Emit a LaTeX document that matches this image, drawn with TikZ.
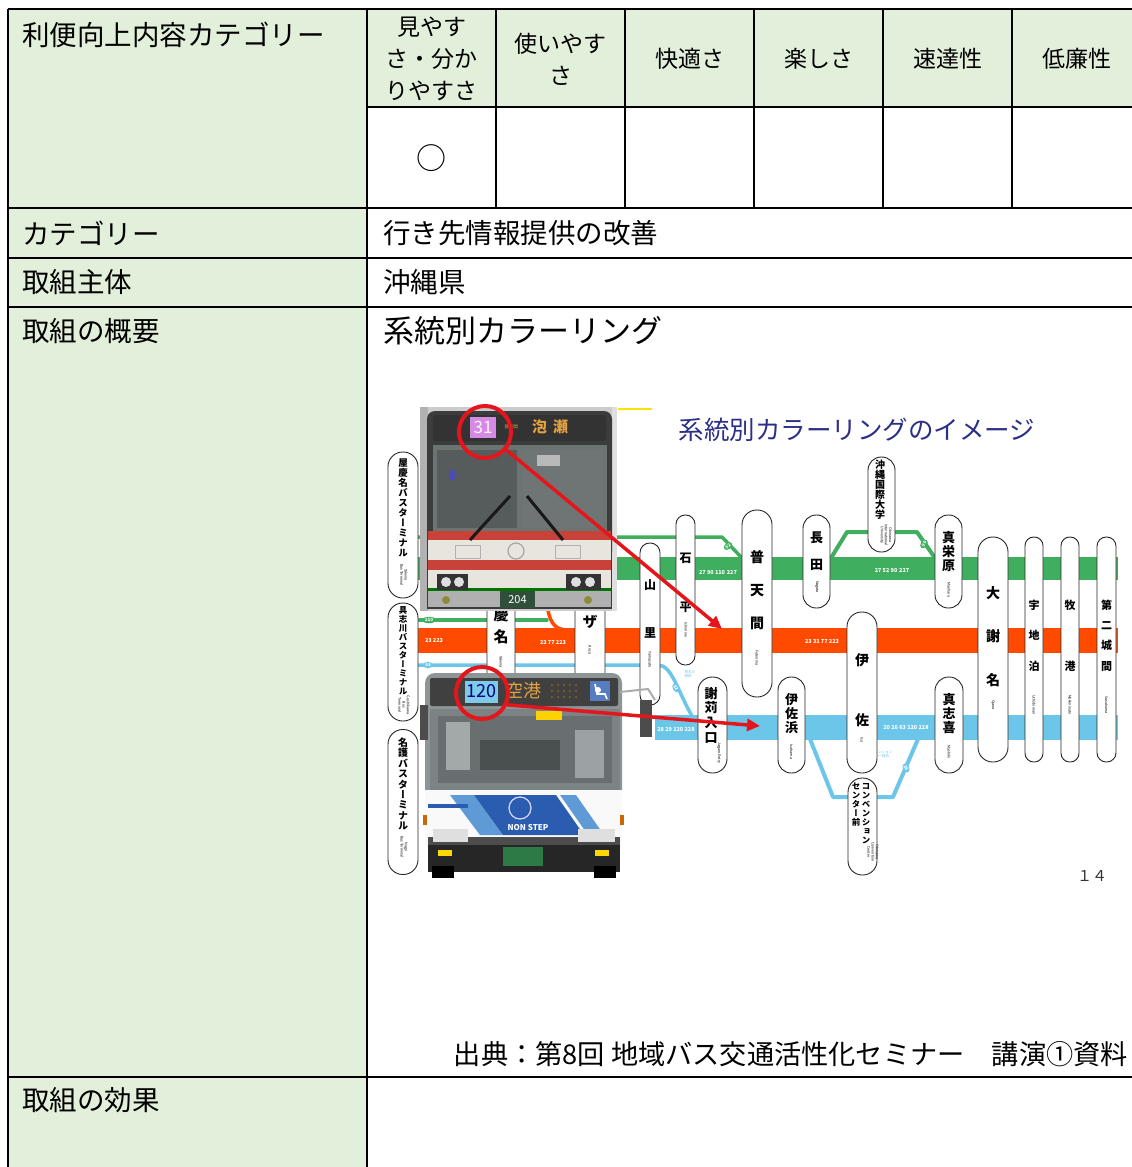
\documentclass[tikz,border=0pt]{standalone}
\usepackage{fontspec}
\setmainfont{Noto Sans CJK JP}
\newfontfamily\jpv[RawFeature=+vert]{Noto Sans CJK JP}
\usetikzlibrary{arrows.meta,shapes.geometric}
\definecolor{hdr}{HTML}{E2EFDA}
\definecolor{rgreen}{HTML}{3FAE5E}
\definecolor{rorange}{HTML}{FF4A00}
\definecolor{rblue}{HTML}{6CC6E9}
\definecolor{navy}{HTML}{2C2F86}
\definecolor{mred}{HTML}{E5161B}
\definecolor{busdark}{HTML}{3B3D3D}
\definecolor{wind}{HTML}{6C7472}
\definecolor{windd}{HTML}{555C5B}
\definecolor{bred}{HTML}{C8423A}
\definecolor{bwhite}{HTML}{E8E4DE}
\definecolor{plateg}{HTML}{2F4F3A}
\definecolor{pinkbox}{HTML}{D58BE3}
\definecolor{ledor}{HTML}{E3A13F}
\definecolor{cyanbox}{HTML}{7DCBEA}
\definecolor{b2gray}{HTML}{8E9596}
\definecolor{b2wind}{HTML}{7B8384}
\definecolor{b2blue}{HTML}{2A5CB0}
\definecolor{b2lblue}{HTML}{5E9BD6}
\definecolor{plate2}{HTML}{2E7A46}
\newcommand\pillstop[5]{\node[pill, minimum width=#4, minimum height=#5, rounded corners={#4*0.5-0.3}] (#1) at (#2,#3) {};}
\newcommand\vjp[6]{\node[vjpstyle, font={\fontsize{#4}{#5}\selectfont\jpv\bfseries}] (#1) at (#2,#3) {#6};}
\begin{document}
\begin{tikzpicture}[x=1pt,y=-1pt,
  grid/.style={line width=1.6pt, black},
  lbl/.style={anchor=west, inner sep=0pt, font=\fontsize{27.5}{30}\selectfont},
  hd/.style={align=center, inner sep=0pt, font=\fontsize{23}{32}\selectfont},
  pill/.style={draw=black!85, line width=0.9pt, fill=white, inner sep=0pt},
  vjpstyle/.style={align=center, inner sep=0pt},
  entext/.style={rotate=-90, inner sep=0pt, align=center, font=\fontsize{3.6}{4.2}\selectfont},
  rnum/.style={inner sep=0pt, text=white, font=\fontsize{5.5}{6}\selectfont\bfseries},
  badge/.style={ellipse, inner sep=0.6pt, text=white, font=\fontsize{4.5}{5}\selectfont\bfseries},
  redring/.style={circle, draw=mred, line width=4pt, minimum size=52pt, inner sep=0pt},
  redarrow/.style={draw=mred, line width=3.5pt, -{Triangle[length=13pt,width=12pt]}}
]
\useasboundingbox (0,0) rectangle (1132,1167);
\begin{scope}
\clip (0,0) rectangle (1132,1167);
% ---------- table ----------
\fill[white] (0,0) rectangle (1132,1167);
\fill[hdr] (8,9) rectangle (367,1180);
\fill[hdr] (367,9) rectangle (1140,107);
\draw[grid] (8,9) -- (1140,9);
\draw[grid] (367,107) -- (1140,107);
\draw[grid] (8,208) -- (1140,208);
\draw[grid] (8,258) -- (1140,258);
\draw[grid] (8,307) -- (1140,307);
\draw[grid] (8,1077) -- (1140,1077);
\draw[grid] (8,9) -- (8,1180);
\draw[grid] (367,9) -- (367,1180);
\foreach \cx in {496,625,754,883,1012} \draw[grid] (\cx,9) -- (\cx,208);

\node[lbl] (t1) at (22,35) {利便向上内容カテゴリー};
\node[hd] (h1) at (431.5,59) {見やす\\さ・分か\\りやすさ};
\node[hd] (h2) at (560.5,59) {使いやす\\さ};
\node[hd] (h3) at (689.5,59) {快適さ};
\node[hd] (h4) at (818.5,59) {楽しさ};
\node[hd] (h5) at (947.5,59) {速達性};
\node[hd] (h6) at (1076.5,59) {低廉性};
\node[inner sep=0pt, font=\fontsize{30}{30}\selectfont] (mark) at (431.5,158) {○};
\node[lbl] (t2) at (22,233) {カテゴリー};
\node[lbl] (v2) at (383,233) {行き先情報提供の改善};
\node[lbl] (t3) at (22,282) {取組主体};
\node[lbl] (v3) at (383,282) {沖縄県};
\node[lbl] (t4) at (22,331) {取組の概要};
\node[lbl, font=\fontsize{31}{34}\selectfont] (v4) at (383,331) {系統別カラーリング};
\node[inner sep=0pt, anchor=east, font=\fontsize{27.2}{30}\selectfont] (src) at (1128,1054) {出典：第8回 地域バス交通活性化セミナー　講演①資料};
\node[lbl] (t5) at (22,1100) {取組の効果};

% ---------- slide: route map ----------
\draw[yellow!85!orange, line width=2pt] (618,409) -- (652,409);
\node[inner sep=0pt, text=navy, font=\fontsize{25.5}{28}\selectfont] (title) at (857,430) {系統別カラーリングのイメージ};

% bands and branches
\fill[rgreen] (410,557) rectangle (1118,580);
\draw[rgreen, line width=3.5pt, line join=round] (410,537) -- (722,537) -- (742,558);
\draw[rgreen, line width=4pt, line join=round] (831,558) -- (847,532) -- (917,532) -- (935,558);
\draw[rgreen, line width=3.5pt, line cap=round] (410,620) -- (547,620);
\fill[rorange] (410,628) rectangle (1118,653);
\draw[rorange, line width=3.5pt] (547,604) .. controls (549,620) and (553,629) .. (566,630);
\draw[rblue, line width=3.5pt] (410,665) -- (658,665) .. controls (672,665) and (678,692) .. (692,716);
\fill[rblue] (655,715) rectangle (1118,740);
\draw[rblue, line width=4pt, line join=round] (810,739) -- (833,797) -- (893,797) -- (918,739);

\node[badge, fill=rgreen, rotate=40] (bg1) at (728,546) {52};
\node[badge, fill=rgreen, rotate=55] (bg2) at (924,544) {90};
\node[badge, fill=rgreen] (bg3) at (429,620) {110};
\node[badge, fill=rblue] (bb1) at (428,665) {63};
\node[badge, fill=rblue, rotate=-60] (bb2) at (676,688) {82};
\node[badge, fill=rblue, rotate=-65] (bb3) at (906,768) {26};
\node[inner sep=0pt, text=rblue, align=left, font=\fontsize{3.6}{4.3}\selectfont] (bt1) at (690,674) {具志川\\経由};
\node[inner sep=0pt, text=rblue, align=left, font=\fontsize{3.6}{4.3}\selectfont] (bt2) at (880,754) {コンベンション\\センター経由};

\node[rnum] (n1) at (718,572) {27 90 110\,\,227};
\node[rnum] (n2) at (892,570) {27 52 90\,\,227};
\node[rnum] (n3) at (434,640) {23 223};
\node[rnum] (n4) at (553,642) {23 77 223};
\node[rnum] (n5) at (822,641) {23 31 77 223};
\node[rnum] (n6) at (676,729) {28 29 120 228};
\node[rnum] (n7) at (906,727) {20 26 63 120 228};

% stops
\pillstop{s1}{403}{525}{30}{146}
\vjp{j1}{403}{508}{9.5}{10}{屋\\慶\\名\\バ\\ス\\タ\\ー\\ミ\\ナ\\ル}
\node[entext] (e1) at (404,575) {Yakena\\Bus Terminal};
\pillstop{s2}{403}{662}{30}{118}
\vjp{j2}{403}{651}{8.5}{9}{具\\志\\川\\バ\\ス\\タ\\ー\\ミ\\ナ\\ル}
\node[entext] (e2) at (404,705) {Gushikawa\\Bus\\Terminal};
\pillstop{s3}{403}{802}{30}{145}
\vjp{j3}{403}{784}{10}{10.4}{名\\護\\バ\\ス\\タ\\ー\\ミ\\ナ\\ル}
\node[entext] (e3) at (404,847) {Nago\\Bus Terminal};

\pillstop{s4}{501}{640}{28}{120}
\vjp{j4}{501}{615}{15}{22}{屋\\慶\\名}
\node[entext] (e4) at (501,662) {Yakena};
\pillstop{s5}{590}{625}{30}{130}
\vjp{j5}{590}{612}{15}{22}{コ\\ザ}
\node[entext] (e5) at (590,650) {Koza};
\pillstop{s6}{650}{624}{20}{162}
\vjp{j6}{650}{609}{12}{48}{山\\里}
\node[entext] (e6) at (650,660) {Yamazato};
\pillstop{s7}{685.5}{590}{19}{150}
\vjp{j7}{685.5}{582.5}{12}{49}{石\\平}
\node[entext] (e7) at (686,630) {Ishimine};
\pillstop{s8}{757}{603.5}{30}{187}
\vjp{j8}{757}{590}{14}{33}{普\\天\\間}
\node[entext] (e8) at (757,658) {Futenma};
\pillstop{s9}{816.5}{561.5}{27}{93}
\vjp{j9}{816.5}{551.5}{13}{27}{長\\田}
\node[entext] (e9) at (817,587) {Nagata};
\pillstop{s10}{881.5}{504.5}{27}{95}
\vjp{j10}{880}{490}{10}{10}{沖\\縄\\国\\際\\大\\学}
\node[entext] (e10) at (886,535) {Okinawa\\International\\University};
\pillstop{s11}{948.5}{561.5}{27}{93}
\vjp{j11}{948.5}{552}{13}{14}{真\\栄\\原}
\node[entext] (e11) at (949,590) {Maehara};
\pillstop{s12}{993}{649.5}{30}{225}
\vjp{j12}{993}{636.5}{14}{43.5}{大\\謝\\名}
\node[entext] (e12) at (993,705) {Ojana};
\pillstop{s13}{1034}{649.5}{18}{225}
\vjp{j13}{1034}{635.5}{11}{30.5}{宇\\地\\泊}
\node[entext] (e13) at (1034,705) {Uchidomari};
\pillstop{s14}{1070}{649.5}{18}{225}
\vjp{j14}{1070}{635.5}{11}{61}{牧\\港}
\node[entext] (e14) at (1070,705) {Makiminato};
\pillstop{s15}{1106.5}{649.5}{19}{225}
\vjp{j15}{1106.5}{635.5}{11}{20.3}{第\\二\\城\\間}
\node[entext] (e15) at (1106.5,705) {Gusukuma};
\pillstop{s16}{862}{692.5}{30}{161}
\vjp{j16}{862}{690}{14}{60}{伊\\佐}
\node[entext] (e16) at (862,740) {Isa};
\pillstop{s17}{712.5}{725}{29}{96}
\vjp{j17}{711}{715}{13}{14.7}{謝\\苅\\入\\口}
\node[entext] (e17) at (719,753) {Jagaru Entry};
\pillstop{s18}{791.5}{725}{27}{96}
\vjp{j18}{791.5}{714}{13}{14}{伊\\佐\\浜}
\node[entext] (e18) at (791.5,752) {Isahama};
\pillstop{s19}{949}{725}{28}{96}
\vjp{j19}{949}{714}{13}{14}{真\\志\\喜}
\node[entext] (e19) at (949,752) {Mashiki};
\pillstop{s20}{862.5}{826.5}{29}{97}
\vjp{j20a}{866}{814}{8.5}{9}{コ\\ン\\ベ\\ン\\シ\\ョ\\ン}
\vjp{j20b}{856}{805}{8.5}{9}{セ\\ン\\タ\\ー\\前}
\node[entext] (e20) at (873,852) {Okinawa\\Convention\\Center};

% ---------- bus photo 1 ----------
\fill[gray!40] (420,407) rectangle (617,611);
\fill[gray!60] (420,407) rectangle (428,611);
\fill[gray!25] (612,407) rectangle (617,611);
\fill[busdark, rounded corners=8pt] (427,411) rectangle (612,560);
\fill[busdark] (427,540) rectangle (612,609);
\fill[black!80, rounded corners=3pt] (433,415) rectangle (606,441);
\node[fill=pinkbox, minimum width=26pt, minimum height=21pt, inner sep=0pt, text=white!92!pinkbox, font=\fontsize{17}{17}\selectfont] (d31) at (483,427.5) {31};
\node[inner sep=0pt, text=ledor, font=\fontsize{4.5}{5}\selectfont] (via1) at (511,427) {普天間};
\node[inner sep=0pt, text=ledor, font=\fontsize{15}{15}\selectfont\bfseries] (dest1) at (550,427) {泡\hspace{6pt}瀬};
\fill[wind] (433,445) rectangle (607,531);
\fill[windd] (437,450) rectangle (517,528);
\fill[windd!85!white] (523,450) rectangle (603,528);
\fill[gray!55] (537,455) rectangle (560,466);
\fill[blue!40!gray] (449,470) rectangle (455,480);
\fill[bred] (428,531) rectangle (611,540);
\fill[bwhite] (428,540) rectangle (611,560);
\fill[bred] (428,560) rectangle (611,570);
\fill[bwhite] (428,570) rectangle (611,588);
\fill[green!45!black] (428,588) rectangle (611,591);
\fill[gray!62] (428,591) rectangle (611,607);
\draw[gray!70, line width=1.2pt] (516,551) circle (8);
\draw[gray!60, line width=0.8pt] (455,545) rectangle (480,558);
\draw[gray!60, line width=0.8pt] (555,545) rectangle (580,558);
\fill[black!80] (437,574) rectangle (468,590);
\fill[black!80] (566,574) rectangle (601,590);
\foreach \hx in {446,459,576,590} \fill[gray!25] (\hx,582) circle (5);
\draw[black!90, line width=3pt] (470,540) -- (510,496);
\draw[black!90, line width=3pt] (563,540) -- (527,496);
\node[fill=plateg, minimum width=35pt, minimum height=17pt, inner sep=0pt, text=white, font=\fontsize{11}{11}\selectfont] (plate1) at (517.5,599.5) {204};
\fill[olive!60!gray] (446,600) circle (4);
\fill[olive!60!gray] (588,600) circle (4);

% ---------- bus photo 2 ----------
\fill[b2gray, rounded corners=10pt] (425,673) rectangle (622,800);
\fill[b2gray] (425,760) rectangle (622,800);
\fill[black!75, rounded corners=2pt] (430,678) rectangle (618,706);
\node[fill=cyanbox, minimum width=33pt, minimum height=22pt, inner sep=0pt, text=blue!50!black, font=\fontsize{18}{18}\selectfont] (d120) at (481,691.5) {120};
\node[inner sep=0pt, text=ledor, font=\fontsize{18}{18}\selectfont] (dest2) at (523,691) {空港};
\foreach \dx in {552,558,564,570,576} \foreach \dy in {685,691,697} \fill[ledor!60!black] (\dx,\dy) circle (1.1);
\fill[b2blue!80!white] (590,681) rectangle (610,701);
\draw[white, line width=1.6pt] (595,684) -- (597,694) -- (605,694) -- (607,699);
\fill[white] (598,690) circle (3);
\fill[b2wind] (430,709) rectangle (620,790);
\fill[b2wind!85!black] (438,716) rectangle (612,783);
\fill[b2wind!70!white] (446,722) rectangle (470,770);
\fill[b2wind!75!white] (575,730) rectangle (604,778);
\fill[b2wind!60!black] (480,740) rectangle (560,770);
\fill[yellow!70!orange] (536,711) rectangle (562,720);
\fill[white!95!gray] (425,790) rectangle (622,846);
\fill[b2lblue] (450,795) -- (474,795) -- (503,835) -- (480,835) -- cycle;
\fill[b2blue] (474,795) -- (556,795) -- (584,835) -- (503,835) -- cycle;
\fill[b2lblue] (560,795) -- (576,795) -- (604,835) -- (588,835) -- cycle;
\fill[b2blue] (428,804) rectangle (468,808);
\draw[white!85!blue, line width=1.2pt] (520,808) circle (11);
\node[inner sep=0pt, text=white, font=\fontsize{8}{8}\selectfont\bfseries] (ns) at (528,828) {NON STEP};
\fill[black!70] (428,837) rectangle (620,845);
\fill[gray!25] (433,829) rectangle (468,842);
\fill[gray!25] (578,829) rectangle (615,842);
\fill[black!85] (428,845) rectangle (620,872);
\fill[yellow!75!orange] (438,850) rectangle (452,856);
\fill[yellow!75!orange] (595,850) rectangle (609,856);
\node[fill=plate2, minimum width=40pt, minimum height=19pt, inner sep=0pt] (plate2n) at (523,856.5) {};
\fill[black] (432,866) rectangle (454,878);
\fill[black] (594,866) rectangle (616,878);
\fill[orange!80!black] (423,815) rectangle (427,825);
\fill[orange!80!black] (620,815) rectangle (624,825);
\draw[gray!65, line width=2pt] (620,692) -- (648,689) -- (655,700);
\fill[black!70] (640,700) rectangle (652,737);
\fill[black!70] (420,705) rectangle (428,740);

% ---------- red marks ----------
\node[redring] (c1) at (485,432) {};
\node[redring] (c2) at (482,693) {};
\coordinate (a1) at (722,629);
\coordinate (a2) at (760,726);
\draw[redarrow] (c1.-40) -- (a1);
\draw[redarrow] (c2.-25) -- (a2);

\node[inner sep=0pt, text=black!80, font=\fontsize{15}{15}\selectfont] (pg) at (1092,876) {１４};
\end{scope}
\end{tikzpicture}
\end{document}
